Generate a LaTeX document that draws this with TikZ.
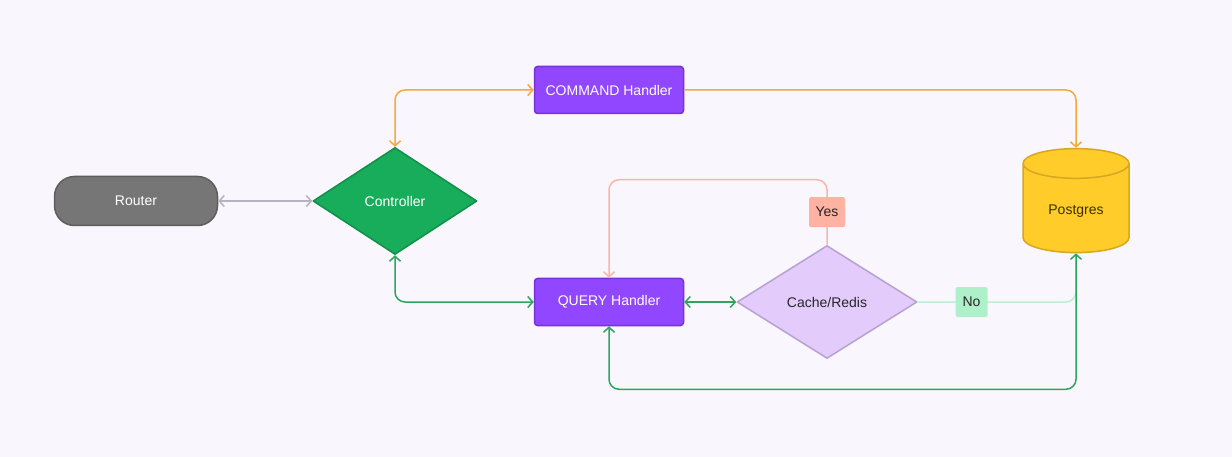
\documentclass[tikz,border=0pt]{standalone}
\usepackage{fontspec}
\setmainfont{Liberation Sans}
\usetikzlibrary{arrows.meta,shapes.geometric}
\usetikzlibrary{positioning}
\definecolor{bg}{HTML}{F9F7FD}
\definecolor{routerfill}{HTML}{767676}
\definecolor{routerdraw}{HTML}{5E5E5E}
\definecolor{ctrlfill}{HTML}{17AD5A}
\definecolor{ctrldraw}{HTML}{138E4A}
\definecolor{handlerfill}{HTML}{9146FF}
\definecolor{handlerdraw}{HTML}{7634D8}
\definecolor{cachefill}{HTML}{E3CCFC}
\definecolor{cachedraw}{HTML}{B7A0D2}
\definecolor{pgfill}{HTML}{FFCC29}
\definecolor{pgdraw}{HTML}{D6A722}
\definecolor{pgtext}{HTML}{3D2E00}
\definecolor{yesfill}{HTML}{FFB1A2}
\definecolor{nofill}{HTML}{AEF0C9}
\definecolor{graylink}{HTML}{B8B2C0}
\definecolor{orangelink}{HTML}{F6A93B}
\definecolor{greenlink}{HTML}{2BA661}
\definecolor{salmonlink}{HTML}{F9B5AA}
\definecolor{lightgreenlink}{HTML}{BCEFD2}
\begin{document}
\begin{tikzpicture}[x=1pt,y=-1pt,font=\fontsize{14}{17}\selectfont,
  link/.style={line width=1.5pt,rounded corners=10pt},
  oneway/.style={link,-{Straight Barb[length=5pt,width=11pt]}},
  twoway/.style={link,{Straight Barb[length=5pt,width=11pt]}-{Straight Barb[length=5pt,width=11pt]}},
  handler/.style={rectangle,rounded corners=3pt,minimum width=149pt,minimum height=47pt,fill=handlerfill,draw=handlerdraw,line width=1.5pt,text=white},
  decision/.style={diamond,inner sep=0pt,line width=1.5pt,line join=round},
  tag/.style={rectangle,rounded corners=1.5pt,inner sep=0pt,minimum height=30pt,text=black!85}]
\useasboundingbox[fill=bg] (0,0) rectangle (1232,457);
% nodes
\node at (136,201)[rectangle,rounded corners=20pt,minimum width=163pt,minimum height=49pt,fill=routerfill,draw=routerdraw,line width=1.5pt,text=white](router){Router};
\node at (395,201)[decision,minimum width=164pt,minimum height=107pt,fill=ctrlfill,draw=ctrldraw,text=white](ctrl){Controller};
\node at (609,90)[handler](cmd){COMMAND Handler};
\node at (609,302)[handler](qry){QUERY Handler};
\node at (827,302)[decision,minimum width=180pt,minimum height=113pt,fill=cachefill,draw=cachedraw,text=black!85](cache){Cache/Redis};
\node at (1076,211)[cylinder,shape border rotate=90,aspect=0.48,minimum width=106pt,minimum height=104pt,fill=pgfill,draw=pgdraw,line width=1.5pt,text=pgtext](pg){Postgres};
% links
\draw[twoway,graylink] (router) -- (ctrl);
\draw[twoway,orangelink] (cmd.west) -| (ctrl.north);
\draw[oneway,orangelink] (cmd.east) -| (pg.north);
\draw[twoway,greenlink] (qry.west) -| (ctrl.south);
\draw[twoway,greenlink] (qry) -- (cache);
\draw[oneway,salmonlink] (cache.north) -- node[tag,fill=yesfill,minimum width=36pt](yes){Yes} ++(0,-65) -| (qry.north);
\draw[link,lightgreenlink] (cache.east) -| node[tag,fill=nofill,minimum width=32pt,pos=0.17](no){No} (pg.south);
\draw[twoway,greenlink] (qry.south) -- ++(0,63) -| (pg.south);
\end{tikzpicture}
\end{document}
